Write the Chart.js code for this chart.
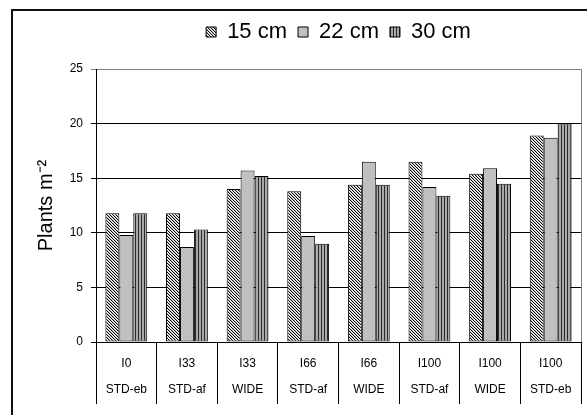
<!DOCTYPE html>
<html>
<head>
<meta charset="utf-8">
<script src="https://cdn.jsdelivr.net/npm/chart.js@4/dist/chart.umd.min.js"></script>
<style>
  html, body { margin: 0; padding: 0; background: #fff; }
  #wrap { width: 587px; height: 415px; }
</style>
</head>
<body>
<div id="wrap"><canvas id="c" width="587" height="415"></canvas></div>
<script>
// ---- Data ----
const treatments = ['I0', 'I33', 'I33', 'I66', 'I66', 'I100', 'I100', 'I100'];
const systems = ['STD-eb', 'STD-af', 'WIDE', 'STD-af', 'WIDE', 'STD-af', 'WIDE', 'STD-eb'];
const seriesNames = ['15 cm', '22 cm', '30 cm'];
const values15 = [11.8, 11.8, 14.0, 13.8, 14.4, 16.5, 15.4, 18.9];
const values22 = [9.8, 8.7, 15.7, 9.7, 16.5, 14.2, 15.9, 18.7];
const values30 = [11.8, 10.3, 15.2, 9.0, 14.4, 13.4, 14.5, 20.0];
const yTicks = [0, 5, 10, 15, 20, 25];

// ---- Fill patterns ----
function makePattern(size, painter) {
  const cv = document.createElement('canvas');
  cv.width = size[0]; cv.height = size[1];
  const g = cv.getContext('2d');
  painter(g);
  return g.createPattern(cv, 'repeat');
}
const ctxMain = document.getElementById('c').getContext('2d');
const pat15 = makePattern([3, 3], g => {
  const cols = ['#000000', '#c0c0c0', '#ffffff'];
  for (let y = 0; y < 3; y++) for (let x = 0; x < 3; x++) {
    const d = ((x - y) % 3 + 3) % 3;
    g.fillStyle = cols[d];
    g.fillRect(x, y, 1, 1);
  }
});
const pat30 = makePattern([3, 1], g => {
  g.fillStyle = '#a8a8a8'; g.fillRect(0, 0, 3, 1);
  g.fillStyle = '#2a2a2a'; g.fillRect(0, 0, 1, 1);
});
const fills = [pat15, '#c0c0c0', pat30];

const labels = treatments.map((t, i) => [t, systems[i]]);
const FONT = "'Liberation Sans', Arial, sans-serif";

const framePlugin = {
  id: 'frame',
  afterDraw(chart) {
    const g = chart.ctx;
    const a = chart.chartArea;
    g.save();
    g.strokeStyle = '#808080';
    g.lineWidth = 1;
    g.beginPath();
    g.moveTo(Math.round(a.right) + 0.5, a.top);
    g.lineTo(Math.round(a.right) + 0.5, a.bottom);
    g.stroke();
    g.strokeStyle = '#111';
    g.lineWidth = 2;
    g.beginPath();
    g.moveTo(12, 415);
    g.lineTo(12, 10);
    g.lineTo(587, 10);
    g.stroke();
    g.restore();
  }
};

new Chart(ctxMain, {
  type: 'bar',
  data: {
    labels: labels,
    datasets: [
      { label: seriesNames[0], data: values15, backgroundColor: fills[0] },
      { label: seriesNames[1], data: values22, backgroundColor: fills[1] },
      { label: seriesNames[2], data: values30, backgroundColor: fills[2] }
    ].map(d => Object.assign(d, {
      borderColor: '#000', borderWidth: 1, borderSkipped: false,
      barPercentage: 1.0, categoryPercentage: 0.69
    }))
  },
  options: {
    responsive: false,
    animation: false,
    devicePixelRatio: 1,
    layout: { padding: { left: 0, right: 6, top: 10, bottom: 0 } },
    plugins: {
      legend: {
        position: 'top',
        fullSize: false,
        labels: {
          boxWidth: 10, boxHeight: 10, padding: 11,
          color: '#000',
          font: { family: FONT, size: 22 }
        }
      },
      tooltip: { enabled: false }
    },
    scales: {
      xTop: {
        type: 'category', position: 'top', display: true,
        ticks: { display: false }, grid: { display: false }, border: { display: false },
        afterFit(s) { s.height = 16; }
      },
      x: {
        position: 'bottom',
        offset: true,
        grid: {
          offset: true, drawOnChartArea: false, drawTicks: true,
          tickLength: 62, color: '#000', lineWidth: 1
        },
        border: { display: true, color: '#000', width: 1 },
        ticks: {
          color: '#000', padding: -53, maxRotation: 0, autoSkip: false,
          font: { family: FONT, size: 12, lineHeight: 2.17 }
        },
        afterFit(s) { s.height = 73; }
      },
      y: {
        min: 0, max: 25,
        afterBuildTicks(s) { s.ticks = yTicks.map(v => ({ value: v })); },
        grid: {
          color: c => (c.tick && c.tick.value === 25) ? '#808080' : '#000',
          lineWidth: 1, tickLength: 5, drawTicks: true
        },
        border: { display: true, color: '#000', width: 1 },
        ticks: { color: '#000', padding: 8, font: { family: FONT, size: 12 } },
        title: {
          display: true, text: 'Plants m⁻²', color: '#000',
          font: { family: FONT, size: 20 }, padding: { top: 34, bottom: 0 }
        },
        afterFit(s) { s.width = 96; }
      }
    }
  },
  plugins: [framePlugin]
});
</script>
</body>
</html>
